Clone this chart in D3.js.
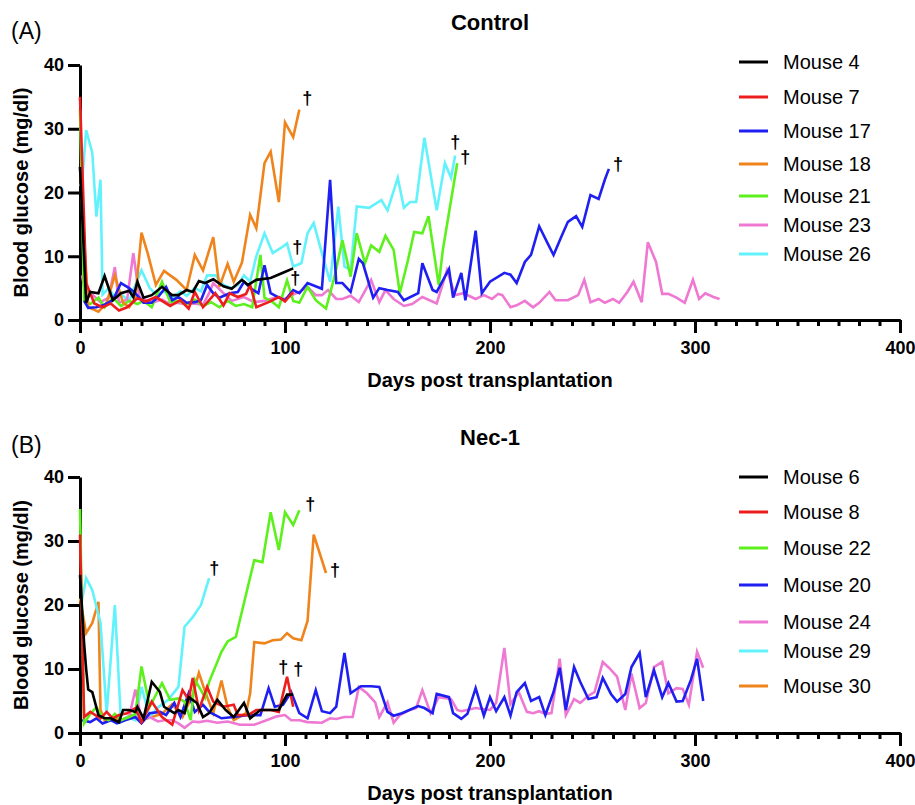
<!DOCTYPE html>
<html>
<head>
<meta charset="utf-8">
<script src="https://cdn.jsdelivr.net/npm/d3@7"></script>
<style>
  body { margin: 0; background: #fff; }
  svg { display: block; font-family: "Liberation Sans", Arial, sans-serif; }
</style>
</head>
<body>
<svg id="chart" width="915" height="805"></svg>
<script>
// ---- panel A : Control ----
var controlNames = ["Mouse 4", "Mouse 7", "Mouse 17", "Mouse 18", "Mouse 21", "Mouse 23", "Mouse 26"]

var mouse4 = [[0,24],[3,2.7],[5,4.4],[9,4.2],[12,6.9],[16,3.1],[20,4.2],[24,4.6],[26,3.6],[28,6],[31,3.5],[35,3.9],[40,5.2],[45,3.9],[48,3.9],[52,4.7],[55,4.4],[58,6.1],[61,5.8],[65,6.4],[70,5.3],[74,4.9],[79,6.3],[82,5.5],[86,6.3],[93,6.6],[99,7.4],[104,8.1]]
var mouse7 = [[0,35],[3,5.8],[5,4.2],[7,2.6],[11,2],[15,2.6],[19,1.5],[23,2],[28,3.4],[32,2.9],[37,3.6],[44,2.2],[49,3.1],[53,1.8],[56,4.4],[60,2],[66,4.2],[70,2.3],[73,4.2],[77,3.6],[81,4.1],[83,5.5],[86,2],[92,2.8],[97,3.6],[100,2.9],[104,4.4]]
var mouse17 = [[2,3],[4,1.9],[8,2],[12,2.4],[16,3.1],[20,5.8],[24,5],[27,4.2],[31,2.7],[35,2.7],[38,3.6],[42,5.2],[45,3.1],[48,3.6],[52,2.7],[56,2.8],[59,3.1],[62,5.5],[65,4.2],[68,3.5],[73,4.2],[77,4.4],[80,6],[84,4.8],[87,4.2],[90,8.6],[93,4.2],[97,3.5],[100,3.1],[104,4.7],[107,4.2],[111,5.8],[118,4.9],[122,22],[125,5.8],[128,5.8],[132,4.4],[136,9.6],[138,8.9],[143,3.5],[146,5],[150,4.7],[155,4.4],[158,3.1],[165,4.2],[167,8.9],[172,4.7],[174,4.4],[180,8],[182,3.5],[186,7.4],[188,3.1],[193,14],[196,4.2],[200,6],[207,7.4],[210,7.1],[213,5.8],[217,9.1],[220,10.2],[224,14.7],[228,12.1],[231,10.2],[235,13.2],[238,15.4],[242,16.3],[245,14.6],[249,19.6],[253,19],[256,22],[258,23.7]]
var mouse18 = [[0,24],[4,2],[9,1.3],[13,2.7],[17,7],[21,2.7],[24,2],[27,3.5],[30,13.7],[33,10.5],[37,5.5],[41,7.7],[47,6.3],[52,4.7],[56,10.2],[60,7.8],[65,13],[68,5.2],[72,8.8],[75,6],[79,9],[83,16.5],[86,14.4],[90,24.6],[93,26.4],[97,18.5],[100,31],[104,28.7],[107,33]]
var mouse21 = [[0,33],[2,3],[5,2.5],[9,3.5],[12,2],[16,3.5],[20,2.2],[24,3],[28,2.5],[31,3],[35,2],[40,6],[44,2.8],[48,3],[52,2.5],[56,3.2],[60,2.2],[64,2.8],[68,2],[72,3],[76,2.2],[80,2.5],[84,2],[88,10.2],[90,3.5],[94,2.8],[97,2],[101,6.2],[104,3],[107,2.7],[111,5.2],[115,3.1],[120,1.8],[124,6.6],[128,12.5],[132,6.8],[135,13.6],[139,8.9],[142,11.7],[146,10.7],[149,13.2],[153,11],[156,4.2],[160,9.4],[163,13.8],[167,13.6],[170,16.3],[175,5.5],[177,11],[184,24.6]]
var mouse23 = [[1,7],[3,3.5],[6,4],[10,2.8],[14,3.5],[17,8.3],[19,2.7],[23,3.2],[26,10.5],[29,3.6],[33,3],[36,2.8],[40,3.2],[44,2.5],[47,2.7],[51,2.5],[56,2.6],[60,2.4],[63,4.2],[65,5.8],[70,4.2],[74,3],[80,3.6],[85,2.8],[90,3],[96,3.6],[100,3.3],[104,4],[107,4.4],[111,5.2],[115,3.9],[118,3.9],[121,4.7],[125,3.3],[128,3.3],[132,3.8],[136,2.8],[142,6.3],[146,2.8],[149,4.7],[153,3.3],[158,2.2],[162,2.5],[167,3.6],[174,2.6],[179,7.8],[183,3.9],[187,4.2],[193,3.3],[197,3.9],[201,3.3],[204,4.1],[206,3.9],[210,2],[213,2.3],[217,3],[221,2],[224,2.7],[229,4.4],[232,3.1],[238,3.1],[243,3.9],[246,6.3],[249,2.8],[253,3.3],[256,2.7],[260,3.3],[263,2.7],[267,4.4],[270,6],[274,2.8],[277,12.2],[281,9.1],[284,4.1],[287,4.1],[291,3.5],[295,2.7],[299,6.3],[302,3.3],[305,4.2],[309,3.6],[312,3.3]]
var mouse26 = [[0,21],[1,21.7],[3,29.8],[6,26.2],[8,16.2],[10,22],[11,4],[14,5],[17,3.5],[20,4],[24,3],[27,5.5],[30,7.8],[34,5],[37,4],[41,4.5],[45,3.5],[49,4.5],[52,3.8],[56,5],[59,4.5],[62,7],[66,7],[70,5.5],[74,5],[77,5.5],[80,7],[83,6],[86,10],[90,13.6],[94,10.5],[98,11.3],[101,12],[104,8.4],[108,8.9],[111,13.6],[114,15.2],[118,10.5],[122,6],[126,17.8],[129,8.4],[132,7.8],[135,17.8],[141,17.6],[147,18.8],[150,17.2],[155,22.3],[158,17.6],[161,18.5],[164,18.5],[168,28.6],[174,17.2],[178,24.6],[181,22.3],[183,25.8]]

var controlSeries = [mouse4, mouse7, mouse17, mouse18, mouse21, mouse23, mouse26]
var controlDead = [true, true, true, true, true, false, true]

// ---- panel B : Nec-1 ----
var necNames = ["Mouse 6", "Mouse 8", "Mouse 22", "Mouse 20", "Mouse 24", "Mouse 29", "Mouse 30"]

var mouse6 = [[0,24.7],[2,14],[3,10],[4,6.8],[6,6.4],[9,2.8],[12,2.3],[15,2.3],[19,1.7],[21,3.6],[24,3.6],[27,3.3],[28,4.1],[31,2.3],[35,8],[39,6.4],[41,4.1],[46,3.1],[48,3.6],[51,3.1],[53,5.6],[57,4.7],[60,2.5],[63,3.1],[67,5.2],[71,3.6],[75,2.5],[80,4.7],[83,2.3],[88,3.6],[97,3.6],[101,6],[104,6]]
var mouse8 = [[0,31],[2,2.5],[5,3.3],[10,2.3],[13,3.3],[16,2.3],[19,2.8],[23,3.1],[27,3.9],[30,1.7],[35,4.9],[40,2.5],[45,1.3],[50,6.7],[53,5.2],[55,8.6],[58,3.6],[62,7.2],[65,4.9],[70,4.1],[75,4.4],[77,2.8],[82,2.8],[86,3.6],[93,3.6],[97,3.3],[101,8.8],[104,4.1]]
var mouse22 = [[0,35],[2,1.5],[5,3],[8,4],[11,2.5],[14,2],[17,3],[20,2],[24,2.5],[27,3],[30,10.4],[34,4.1],[40,7.8],[44,5.2],[48,5.4],[51,4.9],[54,2],[56,8.3],[59,6.7],[61,5.5],[63,8],[69,12.7],[72,14.3],[76,15],[85,27],[89,26.7],[93,34.5],[97,28.6],[100,34.5],[104,32.5],[107,34.8]]
var mouse20 = [[1,2],[5,1.7],[8,2.3],[11,1.5],[15,2],[18,1.5],[22,2],[27,2.5],[30,1.5],[34,3.1],[39,3.3],[42,2.8],[46,4.7],[49,2.5],[53,6.2],[56,3.3],[60,4.4],[63,3.3],[69,2.3],[75,2.5],[82,2.8],[88,2.8],[92,7],[95,4.1],[99,4.4],[103,6.4],[107,3.1],[111,2.3],[115,6.7],[118,3.4],[122,3.1],[125,4.1],[129,12.5],[132,6.2],[137,7.3],[142,7.3],[146,7.2],[150,3.3],[153,2.7],[157,3.1],[165,4.2],[168,3.9],[172,3.1],[174,6.1],[180,5.6],[182,3.1],[186,2.2],[189,3],[193,7],[197,2.7],[200,5.6],[203,3.4],[207,5.6],[210,2.7],[213,6.4],[217,7.8],[220,5],[224,5.6],[227,2.8],[231,6.4],[234,10.2],[237,3.6],[241,10.3],[244,8],[248,5.3],[252,5.6],[255,8.6],[259,6.1],[262,4.9],[266,6.1],[269,10.3],[273,12.5],[276,5.6],[280,9.8],[284,5.6],[287,7.8],[291,4.9],[294,5],[298,8.3],[301,11.6],[304,5]]
var mouse24 = [[14,2],[20,1.8],[24,2.5],[27,6.8],[30,2],[34,2.5],[38,1.8],[41,2],[45,2],[48,1.5],[51,0.8],[55,1.8],[58,1.7],[62,1.9],[67,1.6],[72,1.8],[78,1.3],[85,1.3],[91,2],[96,2.6],[100,2.8],[103,2],[107,2],[111,1.7],[118,1.6],[122,2.3],[125,2.2],[129,2.5],[133,2.5],[136,7.2],[140,6.2],[144,4.8],[146,2.5],[150,4.8],[153,1.6],[156,2.8],[161,3.6],[164,3.9],[167,6.7],[171,3.1],[175,5.6],[181,5.3],[184,3.6],[186,3.4],[193,3.9],[200,3.6],[203,4.7],[207,13.3],[210,4.5],[214,6.4],[218,3.3],[221,3.1],[224,3.4],[227,3],[230,3.1],[234,11.6],[237,2.8],[241,5.3],[244,4.7],[248,5.8],[251,6.4],[255,11.1],[258,10.2],[262,8.8],[266,3.6],[269,9.3],[273,3.9],[276,4.7],[280,10.3],[284,11.1],[287,6.2],[291,7],[294,6.9],[297,4.4],[301,12.7],[304,10.2]]
var mouse29 = [[0,21],[1,20.8],[3,24.2],[6,22.3],[10,17.2],[13,3.1],[17,20],[20,1.7],[23,2.5],[27,2],[30,7.2],[34,2.5],[38,4],[43,5.2],[48,7.2],[51,16.6],[55,18.1],[59,20],[63,24.2]]
var mouse30 = [[0,21],[3,15.6],[6,17.2],[9,20.5],[10,3.6],[12,2],[16,2.5],[20,2],[25,2.8],[30,2],[35,2.5],[40,3],[45,4.5],[50,2.5],[55,6],[58,9.4],[61,6.5],[65,3.1],[69,8.2],[72,4],[75,2],[81,3.1],[83,6.2],[85,14.2],[90,14],[94,14.5],[98,14.6],[101,15.6],[104,14.8],[108,14.5],[111,17.5],[114,31],[120,25]]

var necSeries = [mouse6, mouse8, mouse22, mouse20, mouse24, mouse29, mouse30]
var necDead = [true, true, true, false, false, true, true]

var xTicks = [0, 100, 200, 300, 400]
var yTicks = [0, 10, 20, 30, 40]

// style / layout
var colors = {
  "Mouse 4": "#000000", "Mouse 7": "#ee1d1d", "Mouse 17": "#1f1ff2", "Mouse 18": "#f0841c",
  "Mouse 21": "#5cf01c", "Mouse 23": "#ee78d2", "Mouse 26": "#62f2fb",
  "Mouse 6": "#000000", "Mouse 8": "#ee1d1d", "Mouse 22": "#5cf01c", "Mouse 20": "#1f1ff2",
  "Mouse 24": "#ee78d2", "Mouse 29": "#62f2fb", "Mouse 30": "#f0841c"
}

var dims = { left: 80, right: 900 }

var svg = d3.select("#chart")
svg.append("rect").attr("width", 915).attr("height", 805).attr("fill", "#fff")

function drawPanel(p) {
  var g = svg.append("g")

  var xScale = d3.scaleLinear()
    .domain([0, 400])
    .range([dims.left, dims.right])

  var yScale = d3.scaleLinear()
    .domain([0, 40])
    .range([p.bottom, p.top])

  // axes
  var minorAxis = d3.axisBottom(xScale)
    .tickValues(d3.range(0, 401, 10))
    .tickSize(6)
    .tickSizeOuter(0)
    .tickFormat("")
  var majorAxis = d3.axisBottom(xScale)
    .tickValues(xTicks)
    .tickSize(13)
    .tickSizeOuter(0)
    .tickPadding(8)
  var yAxis = d3.axisLeft(yScale)
    .tickValues(yTicks)
    .tickSize(12)
    .tickSizeOuter(0)
    .tickPadding(4)

  g.append("g")
    .attr("transform", `translate(0,${p.bottom})`)
    .call(minorAxis)
  g.append("g")
    .attr("transform", `translate(0,${p.bottom})`)
    .call(majorAxis)
  g.append("g")
    .attr("transform", `translate(${dims.left},0)`)
    .call(yAxis)

  g.selectAll(".domain, .tick line")
    .attr("stroke", "#000")
    .attr("stroke-width", 3)
  g.selectAll(".tick text")
    .attr("fill", "#000")
    .style("font-size", "18px")
    .style("font-weight", "bold")
    .style("font-family", "'Liberation Sans', Arial, sans-serif")

  // lines, drawn last to first so the first mouse sits on top
  var line = d3.line()
    .x(d => xScale(d[0]))
    .y(d => yScale(d[1]))

  for (var i = p.series.length - 1; i >= 0; i--) {
    g.append("path")
      .datum(p.series[i])
      .attr("fill", "none")
      .attr("stroke", colors[p.names[i]])
      .attr("stroke-width", 2.6)
      .attr("stroke-linejoin", "miter")
      .attr("d", line)
  }

  // daggers
  p.series.forEach(function (s, i) {
    if (!p.dead[i]) return
    var last = s[s.length - 1]
    var off = p.daggerOffset[i]
    g.append("text")
      .attr("x", xScale(last[0]) + off[0])
      .attr("y", yScale(last[1]) + off[1])
      .attr("text-anchor", "middle")
      .attr("dominant-baseline", "central")
      .style("font-size", "18px")
      .style("font-weight", "bold")
      .text("\u2020")
  })

  // titles
  g.append("text")
    .attr("x", 490)
    .attr("y", p.titleY)
    .attr("text-anchor", "middle")
    .attr("dominant-baseline", "central")
    .style("font-size", "22px")
    .style("font-weight", "bold")
    .text(p.title)

  g.append("text")
    .attr("x", 11)
    .attr("y", p.labelY)
    .attr("dominant-baseline", "central")
    .style("font-size", "23px")
    .text(p.label)

  g.append("text")
    .attr("transform", `translate(21,${(p.top + p.bottom) / 2}) rotate(-90)`)
    .attr("text-anchor", "middle")
    .attr("dominant-baseline", "central")
    .style("font-size", "20px")
    .style("font-weight", "bold")
    .text("Blood glucose (mg/dl)")

  g.append("text")
    .attr("x", (dims.left + dims.right) / 2)
    .attr("y", p.bottom + 60)
    .attr("text-anchor", "middle")
    .attr("dominant-baseline", "central")
    .style("font-size", "20px")
    .style("font-weight", "bold")
    .text("Days post transplantation")

  // legend
  var legend = g.append("g")
  p.names.forEach(function (name, i) {
    var y = p.legendY[i]
    legend.append("line")
      .attr("x1", 739).attr("x2", 768)
      .attr("y1", y).attr("y2", y)
      .attr("stroke", colors[name])
      .attr("stroke-width", 3)
    legend.append("text")
      .attr("x", 783)
      .attr("y", y)
      .attr("dominant-baseline", "central")
      .style("font-size", "20px")
      .text(name)
  })
}

drawPanel({
  names: controlNames,
  series: controlSeries,
  dead: controlDead,
  daggerOffset: [[4, -21], [2, -14], [9, -5], [8, -12], [8, -6], [0, 0], [0, -14]],
  top: 65, bottom: 320,
  title: "Control", titleY: 22,
  label: "(A)", labelY: 31,
  legendY: [62, 97, 131, 164, 196, 225, 254]
})

drawPanel({
  names: necNames,
  series: necSeries,
  dead: necDead,
  daggerOffset: [[5, -26], [-10, -40], [11, -6], [0, 0], [0, 0], [5, -10], [9, -3]],
  top: 477, bottom: 733,
  title: "Nec-1", titleY: 437,
  label: "(B)", labelY: 445,
  legendY: [477, 512, 548, 585, 622, 651, 686]
})
</script>
</body>
</html>
